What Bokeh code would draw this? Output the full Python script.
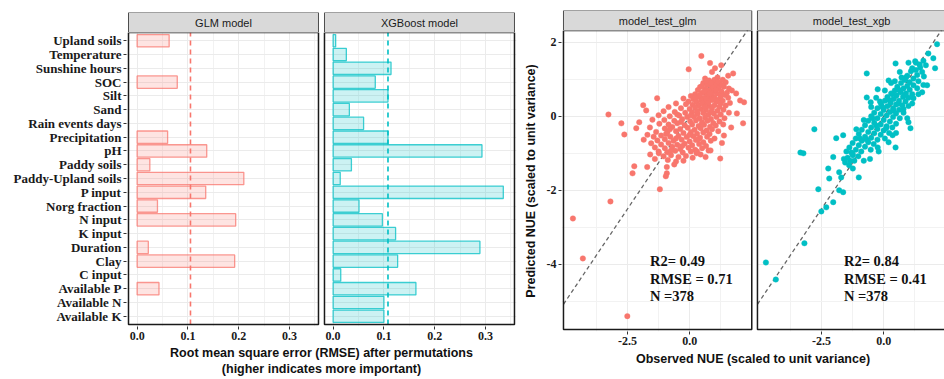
from bokeh.plotting import figure
from bokeh.layouts import row, column
from bokeh.models import Range1d, FixedTicker
from bokeh.embed import file_html
from bokeh.resources import INLINE
from bokeh.core.properties import value

# ---------------- permutation importance (RMSE after permutation) ----------------
features = ["Upland soils", "Temperature", "Sunshine hours", "SOC", "Silt", "Sand",
            "Rain events days", "Precipitation", "pH", "Paddy soils",
            "Paddy-Upland soils", "P input", "Norg fraction", "N input", "K input",
            "Duration", "Clay", "C input", "Available P", "Available N", "Available K"]
glm_rmse = [0.063, 0.0, 0.0, 0.079, 0.0, 0.0, 0.0, 0.060, 0.137, 0.025, 0.210,
            0.135, 0.040, 0.194, 0.0, 0.022, 0.192, 0.0, 0.043, 0.0, 0.0]
xgb_rmse = [0.005, 0.026, 0.114, 0.083, 0.108, 0.032, 0.060, 0.108, 0.293, 0.036,
            0.014, 0.335, 0.051, 0.097, 0.123, 0.289, 0.127, 0.015, 0.163, 0.100, 0.100]
glm_cutoff = 0.105
xgb_cutoff = 0.108
rmse_ticks = [0.0, 0.1, 0.2, 0.3]
rmse_labels = ["0.0", "0.1", "0.2", "0.3"]
importance_panels = ["GLM model", "XGBoost model"]

# ---------------- observed vs predicted NUE on the test set: (observed, predicted) ----------------
glm_points = [
    # sparse points around the cloud
    (0.47, 1.63), (0.82, 1.44), (1.27, 1.38), (-0.04, 1.27), (1.75, 1.16), (1.55, 1.1), (1.02, 1.3), (0.9, 1.2),
    (-3.27, 0.05), (-2.75, -0.19), (-2.63, -0.49), (-1.87, 0.3), (-1.31, 0.49), (-2.03, -0.16), (-2.15, -0.32),
    (-1.75, 0.16), (2.15, -0.19), (2.03, 0.43), (2.19, 0.38), (1.87, 0.62), (1.67, -0.3),
    (1.23, -1.14), (0.76, -0.92), (0.64, -1.1), (0.28, -1.0), (-1.2, -1.97), (-2.23, -1.35), (-2.3, -1.54),
    (-1.71, -1.37), (-0.92, -1.54), (-0.92, -1.37), (-1.24, -1.0), (-1.59, -1.03), (-0.96, -1.62), (0.44, -1.03),
    (0.84, -0.92), (-3.19, -2.3), (-4.7, -2.76), (-4.3, -3.84), (-2.51, -5.4),
    # upper part of the cloud
    (0.62, 1.02), (0.78, 0.97), (1.12, 1.05), (1.33, 0.99), (0.95, 0.93), (0.55, 0.9), (1.22, 0.88), (1.45, 0.92),
    (0.71, 0.85), (0.88, 0.81), (1.05, 0.84), (1.38, 0.8), (0.42, 0.79), (0.63, 0.74), (1.17, 0.76), (1.58, 0.75),
    (0.33, 0.71), (0.8, 0.7), (0.98, 0.68), (1.28, 0.67), (1.7, 0.7), (0.5, 0.64), (0.22, 0.6), (0.69, 0.6),
    (0.9, 0.57), (1.1, 0.62), (1.42, 0.58), (0.05, 0.55), (0.38, 0.52), (0.58, 0.5), (0.77, 0.53), (1.0, 0.5),
    (1.2, 0.47), (1.55, 0.5), (0.15, 0.46), (-0.25, 0.48), (0.48, 0.43), (0.68, 0.41), (0.88, 0.44), (1.08, 0.4),
    (1.33, 0.42), (0.28, 0.39), (-0.05, 0.4), (1.62, 0.36),
    # middle of the cloud
    (-0.55, 0.35), (-0.15, 0.33), (0.12, 0.31), (0.35, 0.3), (0.57, 0.32), (0.79, 0.28), (1.0, 0.3), (1.2, 0.26),
    (1.45, 0.29), (-0.85, 0.25), (-0.35, 0.22), (0.0, 0.2), (0.22, 0.24), (0.45, 0.2), (0.66, 0.17), (0.9, 0.21),
    (1.12, 0.15), (1.36, 0.18), (-1.05, 0.14), (-0.6, 0.12), (-0.18, 0.1), (0.1, 0.11), (0.32, 0.07), (0.55, 0.09),
    (0.75, 0.04), (0.97, 0.08), (1.25, 0.05), (1.58, 0.1), (1.9, 0.08), (-1.25, 0.03), (-0.8, 0.0), (-0.42, 0.02),
    (-0.1, -0.02), (0.18, -0.01), (0.4, -0.05), (0.62, -0.03), (0.86, -0.07), (1.08, -0.02), (1.4, -0.05),
    (-1.5, -0.09), (-1.02, -0.1), (-0.62, -0.12), (-0.3, -0.08), (0.02, -0.13), (0.25, -0.11), (0.5, -0.15),
    (0.72, -0.12), (0.95, -0.18), (1.2, -0.14), (-1.22, -0.2), (-0.85, -0.22), (-0.5, -0.19), (-0.2, -0.24),
    (0.1, -0.22), (0.36, -0.26), (0.58, -0.23), (0.82, -0.28), (1.05, -0.25), (1.35, -0.22), (-1.6, -0.3),
    (-1.0, -0.33), (-0.7, -0.29), (-0.38, -0.34), (-0.08, -0.31), (0.2, -0.36), (0.44, -0.32), (0.68, -0.38),
    (0.9, -0.35), (1.15, -0.4), (-1.35, -0.42), (-0.9, -0.44), (-0.55, -0.4), (-0.25, -0.45), (0.05, -0.42),
    (0.3, -0.47), (0.55, -0.44), (0.8, -0.48),
    # lower part of the cloud
    (-1.7, -0.5), (-1.45, -0.55), (-1.15, -0.52), (-0.78, -0.55), (-0.45, -0.53), (-0.12, -0.56), (0.15, -0.54),
    (0.42, -0.58), (0.7, -0.55), (1.0, -0.6), (1.38, -0.52), (-1.85, -0.63), (-1.3, -0.65), (-1.0, -0.62),
    (-0.65, -0.66), (-0.32, -0.63), (0.0, -0.68), (0.25, -0.64), (0.55, -0.7), (0.85, -0.66), (-1.55, -0.73),
    (-1.15, -0.76), (-0.85, -0.72), (-0.5, -0.77), (-0.2, -0.74), (0.1, -0.78), (0.38, -0.75), (0.66, -0.8),
    (1.3, -0.72), (-1.4, -0.84), (-1.0, -0.86), (-0.7, -0.82), (-0.38, -0.88), (-0.05, -0.85), (0.22, -0.9),
    (0.5, -0.86), (-1.25, -0.95), (-0.9, -0.97), (-0.58, -0.93), (-0.28, -0.98), (0.05, -0.95), (-1.05, -1.08),
    (-0.75, -1.05), (-0.45, -1.1), (-0.15, -1.07), (0.12, -1.12), (-0.88, -1.18), (-0.55, -1.22), (-0.25, -1.2),
    (-0.62, -1.3),
    # overlapping points in the dense core
    (0.68, 0.95), (1.0, 0.99), (0.85, 0.9), (1.15, 0.93), (0.5, 0.82), (0.95, 0.78), (1.3, 0.85), (0.6, 0.68),
    (1.05, 0.72), (1.5, 0.64), (0.4, 0.58), (0.8, 0.62), (1.25, 0.55), (0.25, 0.5), (0.65, 0.47), (0.95, 0.45),
    (0.5, 0.36), (0.75, 0.37), (1.25, 0.35), (0.3, 0.14), (0.6, 0.25), (0.85, 0.12), (-0.5, 0.05), (0.05, 0.03),
    (0.5, -0.2), (-0.35, -0.15), (-0.8, -0.35), (0.0, -0.5), (-0.55, -0.6), (-0.95, -0.48), (0.35, -0.62),
    (-0.3, -0.8), (-0.75, -0.92), (0.3, -0.95), (-1.4, -1.15),
]
xgb_points = [
    # sparse points around the band
    (2.15, 1.95), (1.8, 1.7), (2.0, 1.57), (1.27, 1.49), (0.48, 1.43), (1.47, 1.32), (2.07, 1.3), (-0.68, 1.16),
    (0.2, 0.97), (1.75, 0.84), (-0.24, 0.73), (1.55, 0.65), (-0.68, 0.51), (-0.52, 0.38), (1.2, 0.49),
    (-2.79, -0.35), (-1.91, -0.59), (1.0, -0.16), (1.08, -0.32), (0.48, -0.84), (-0.24, -0.84), (-3.23, -1.0),
    (-3.35, -0.98), (-2.03, -1.1), (-1.63, -0.51), (-1.24, -1.05), (0.36, -0.51),
    (-2.23, -1.41), (-2.19, -1.68), (-2.63, -1.97), (-1.79, -1.51), (-1.71, -1.65), (-1.79, -2.0), (-1.63, -2.05),
    (-2.03, -2.32), (-2.31, -2.46), (-2.51, -2.57), (-1.0, -1.65), (-1.39, -1.32), (-1.24, -1.41),
    (-3.19, -3.43), (-4.74, -3.95), (-4.34, -4.41),
    # band along the 1:1 line
    (1.6, 1.5), (1.7, 1.38), (1.45, 1.4), (1.3, 1.25), (1.55, 1.2), (1.1, 1.22), (1.35, 1.12), (1.62, 1.08),
    (0.95, 1.1), (1.2, 1.02), (0.85, 0.98), (1.05, 0.92), (1.4, 0.95), (0.7, 0.9), (0.95, 0.82), (1.2, 0.84),
    (0.55, 0.8), (0.8, 0.75), (1.05, 0.72), (1.35, 0.76), (0.45, 0.7), (0.68, 0.65), (0.9, 0.62), (1.15, 0.6),
    (0.3, 0.62), (0.52, 0.56), (0.78, 0.52), (1.0, 0.5), (0.15, 0.52), (0.4, 0.47), (0.62, 0.42), (0.88, 0.4),
    (0.05, 0.42), (0.28, 0.37), (0.5, 0.32), (0.75, 0.3), (1.0, 0.28), (-0.1, 0.33), (0.15, 0.27), (0.38, 0.22),
    (0.62, 0.18), (-0.25, 0.22), (0.0, 0.17), (0.25, 0.12), (0.5, 0.08), (0.8, 0.1), (-0.38, 0.1), (-0.12, 0.06),
    (0.12, 0.02), (0.38, -0.02), (0.65, -0.05), (-0.5, 0.0), (-0.25, -0.05), (0.0, -0.1), (0.25, -0.14),
    (0.5, -0.2), (-0.62, -0.12), (-0.38, -0.17), (-0.12, -0.22), (0.12, -0.27), (0.35, -0.3), (-0.75, -0.24),
    (-0.5, -0.3), (-0.25, -0.34), (0.0, -0.38), (0.22, -0.45), (-0.88, -0.36), (-0.62, -0.42), (-0.38, -0.46),
    (-0.12, -0.5), (0.05, -0.6), (-1.0, -0.48), (-0.75, -0.55), (-0.5, -0.58), (-0.25, -0.63), (-1.12, -0.6),
    (-0.88, -0.66), (-0.62, -0.7), (-0.4, -0.75), (-1.25, -0.72), (-1.0, -0.78), (-0.75, -0.82), (-0.52, -0.9),
    (-1.38, -0.84), (-1.12, -0.9), (-0.9, -0.95), (-1.5, -0.95), (-1.25, -1.02), (-1.02, -1.08), (-1.45, -1.12),
    (-1.18, -1.2), (-1.55, -1.25), (-1.35, -1.2),
    # overlapping points in the band
    (1.15, 1.3), (0.9, 1.05), (0.6, 0.72), (0.2, 0.45), (-0.05, 0.25), (0.85, 0.58), (0.4, 0.15), (-0.3, -0.25),
    (0.6, 0.35), (-0.7, -0.62), (0.1, -0.32), (-0.95, -0.6), (1.3, 1.45), (-1.3, -0.98), (0.35, 0.6),
    (0.72, 1.05), (-0.45, -0.05), (-1.6, -1.15), (-0.15, 0.4), (0.45, 0.95),
    # edges of the band
    (-0.3, 0.5), (0.05, 0.7), (0.3, 0.9), (0.65, 1.2), (1.0, 1.45), (0.8, 0.2), (1.15, 0.35), (1.4, 0.6),
    (0.5, -0.45), (0.2, -0.7), (-0.2, -0.95), (-0.8, -1.2), (-1.1, -0.35), (-0.8, -0.1), (-0.5, 0.25),
    (1.6, 0.85), (0.95, -0.05), (-0.55, -1.15),
]
glm_stats = ["R2= 0.49", "RMSE = 0.71", "N =378"]
xgb_stats = ["R2= 0.84", "RMSE = 0.41", "N =378"]
nue_xticks = [-2.5, 0.0]
nue_xlabels = ["-2.5", "0.0"]
nue_yticks = [2, 0, -2, -4]
nue_ylabels = ["2", "0", "-2", "-4"]
nue_panels = ["model_test_glm", "model_test_xgb"]

GLM_COL = "#F8766D"
XGB_COL = "#00BFC4"
SERIF = "Liberation Serif"
SANS = "Liberation Sans"
GRID = "#ebebeb"
STRIP_FILL = "#d9d9d9"
STRIP_LINE = "#4d4d4d"


def clean(p):
    p.outline_line_color = None
    p.background_fill_color = "white"
    p.border_fill_color = "white"
    return p


def strip_figure(width, height, x_range, left, right, top, spans, labels):
    s = clean(figure(width=width, height=height, x_range=x_range, y_range=Range1d(0, 1),
                     output_backend="svg", toolbar_location=None,
                     min_border_left=left, min_border_right=right,
                     min_border_top=top, min_border_bottom=0))
    s.axis.visible = False
    s.grid.visible = False
    s.quad(left=[a for a, b in spans], right=[b for a, b in spans], bottom=0, top=1,
           fill_color=STRIP_FILL, line_color=STRIP_LINE, line_width=1)
    s.text(x=[(a + b) / 2 for a, b in spans], y=[0.5] * len(spans), text=labels,
           text_font=value(SANS), text_font_size="11px", text_color="#1a1a1a",
           text_align="center", text_baseline="middle")
    return s


def style_axes(axes, label_size):
    for ax in axes:
        ax.axis_line_color = None
        ax.major_tick_line_color = "#333333"
        ax.major_tick_out = 3
        ax.major_tick_in = 0
        ax.minor_tick_line_color = None
        ax.major_label_standoff = 2
        ax.major_label_text_font = SERIF
        ax.major_label_text_font_style = "bold"
        ax.major_label_text_font_size = label_size
        ax.major_label_text_color = "#1a1a1a"
        ax.axis_label_text_font = SANS
        ax.axis_label_text_font_style = "bold"
        ax.axis_label_text_font_size = "12.5px"
        ax.axis_label_text_color = "#111111"


# ======================= left: importance bars =======================
px_per_rmse = 508.0
bar_x0 = -0.017 - 2 / px_per_rmse
bar_x = Range1d(bar_x0, bar_x0 + 390 / px_per_rmse)
glm_lim = (-0.017, 0.357)
xgb_shift = 0.3858
xgb_lim = (xgb_shift - 0.017, xgb_shift + 0.357)
n_feat = len(features)
row_pos = [n_feat - i for i in range(n_feat)]
y_lo = 0.4
y_hi = n_feat + 0.6

bars = clean(figure(width=520, height=347, x_range=bar_x,
                    y_range=Range1d(y_lo - 2 / 13.96, y_hi),
                    output_backend="svg", toolbar_location=None,
                    min_border_left=126, min_border_right=4,
                    min_border_top=0, min_border_bottom=49))

major_x = [round(t, 4) for t in rmse_ticks] + [round(t + xgb_shift, 4) for t in rmse_ticks]
minor_x = [round(t + 0.05, 4) for t in rmse_ticks] + [round(t + 0.05 + xgb_shift, 4) for t in rmse_ticks]
bars.xgrid.ticker = FixedTicker(ticks=major_x, minor_ticks=minor_x)
bars.xgrid.grid_line_color = GRID
bars.xgrid.minor_grid_line_color = "#f2f2f2"
bars.ygrid.ticker = FixedTicker(ticks=row_pos)
bars.ygrid.grid_line_color = GRID

for vals, shift, col in ((glm_rmse, 0.0, GLM_COL), (xgb_rmse, xgb_shift, XGB_COL)):
    keep = [i for i, v in enumerate(vals) if v > 0]
    bars.quad(left=[shift] * len(keep), right=[vals[i] + shift for i in keep],
              bottom=[row_pos[i] - 0.45 for i in keep], top=[row_pos[i] + 0.45 for i in keep],
              fill_color=col, fill_alpha=0.2, line_color=col, line_alpha=0.75, line_width=1.3)

bars.segment(x0=[glm_cutoff, xgb_cutoff + xgb_shift], x1=[glm_cutoff, xgb_cutoff + xgb_shift],
             y0=[y_lo, y_lo], y1=[y_hi, y_hi], line_color=[GLM_COL, XGB_COL],
             line_width=1.6, line_dash="5 4")

# white gutter between the two facets, then the facet borders
bars.quad(left=[glm_lim[1]], right=[xgb_lim[0]], bottom=[y_lo - 1], top=[y_hi + 1],
          fill_color="white", line_color=None)
bars.quad(left=[glm_lim[0], xgb_lim[0]], right=[glm_lim[1], xgb_lim[1]],
          bottom=[y_lo, y_lo], top=[y_hi, y_hi], fill_color=None,
          line_color="#1a1a1a", line_width=1.5)

bars.xaxis.ticker = FixedTicker(ticks=major_x)
bars.xaxis.major_label_overrides = {t: lab for t, lab in zip(major_x, rmse_labels * 2)}
bars.yaxis.ticker = FixedTicker(ticks=row_pos)
bars.yaxis.major_label_overrides = {r: f for r, f in zip(row_pos, features)}
style_axes([bars.xaxis], "12px")
style_axes([bars.yaxis], "13px")
bars.xaxis.axis_label = "Root mean square error (RMSE) after permutations\n(higher indicates more important)"
bars.xaxis.axis_label_standoff = 3

bar_strip = strip_figure(520, 32, bar_x, 126, 4, 12, [glm_lim, xgb_lim], importance_panels)

# ======================= right: observed vs predicted =======================
px_per_unit_x = 25.1
px_per_unit_y = 37.0
nue_x0 = -5.08 - 2 / px_per_unit_x
nue_x = Range1d(nue_x0, nue_x0 + 387 / px_per_unit_x)
panel_left = -5.08
panel_right = 2.5
xgb_off = 7.809
y_top = 2.32
y_bot = -5.76
nue_y = Range1d(y_top - 301 / px_per_unit_y, y_top)

sc = clean(figure(width=424, height=349, x_range=nue_x, y_range=nue_y,
                  output_backend="svg", toolbar_location=None,
                  min_border_left=37, min_border_right=0,
                  min_border_top=0, min_border_bottom=48))

mx = nue_xticks + [t + xgb_off for t in nue_xticks]
mnx = [-3.75, -1.25, 1.25, -3.75 + xgb_off, -1.25 + xgb_off, 1.25 + xgb_off]
sc.xgrid.ticker = FixedTicker(ticks=mx, minor_ticks=mnx)
sc.xgrid.grid_line_color = GRID
sc.xgrid.minor_grid_line_color = "#f2f2f2"
sc.ygrid.ticker = FixedTicker(ticks=nue_yticks, minor_ticks=[1, -1, -3, -5])
sc.ygrid.grid_line_color = GRID
sc.ygrid.minor_grid_line_color = "#f2f2f2"

# 1:1 reference lines
sc.segment(x0=[panel_left, panel_left + xgb_off], y0=[panel_left, panel_left],
           x1=[panel_right, panel_right + xgb_off], y1=[panel_right, panel_right],
           line_color="#666666", line_width=1.3, line_dash="4 3")

for pts, off, col in ((glm_points, 0.0, GLM_COL), (xgb_points, xgb_off, XGB_COL)):
    sc.scatter(x=[o + off for o, p in pts], y=[p for o, p in pts], size=5.5,
               fill_color=col, line_color=col, line_width=0.4)

for stats, off in ((glm_stats, 0.0), (xgb_stats, xgb_off)):
    sc.text(x=[-1.6 + off] * 3, y=[-3.92, -4.4, -4.86], text=stats,
            text_font=value(SERIF), text_font_style="bold", text_font_size="14.5px",
            text_color="#111111", text_align="left", text_baseline="middle")

sc.quad(left=[panel_right], right=[panel_left + xgb_off], bottom=[y_bot - 1], top=[y_top + 1],
        fill_color="white", line_color=None)
sc.quad(left=[panel_left, panel_left + xgb_off], right=[panel_right, panel_right + xgb_off],
        bottom=[y_bot, y_bot], top=[y_top, y_top], fill_color=None,
        line_color="#1a1a1a", line_width=1.5)

sc.xaxis.ticker = FixedTicker(ticks=mx)
sc.xaxis.major_label_overrides = {t: lab for t, lab in zip(mx, nue_xlabels * 2)}
sc.yaxis.ticker = FixedTicker(ticks=nue_yticks)
sc.yaxis.major_label_overrides = {t: lab for t, lab in zip(nue_yticks, nue_ylabels)}
style_axes([sc.xaxis, sc.yaxis], "12px")
sc.xaxis.axis_label_standoff = 4
sc.yaxis.axis_label_standoff = 6
sc.xaxis.axis_label = "Observed NUE (scaled to unit variance)"
sc.yaxis.axis_label = "Predicted NUE (scaled to unit variance)"

nue_strip = strip_figure(424, 30, nue_x, 37, 0, 10,
                         [(panel_left, panel_right), (panel_left + xgb_off, panel_right + xgb_off)],
                         nue_panels)

layout = row(column(bar_strip, bars), column(nue_strip, sc))
open("out.html", "w").write(file_html(layout, INLINE))
